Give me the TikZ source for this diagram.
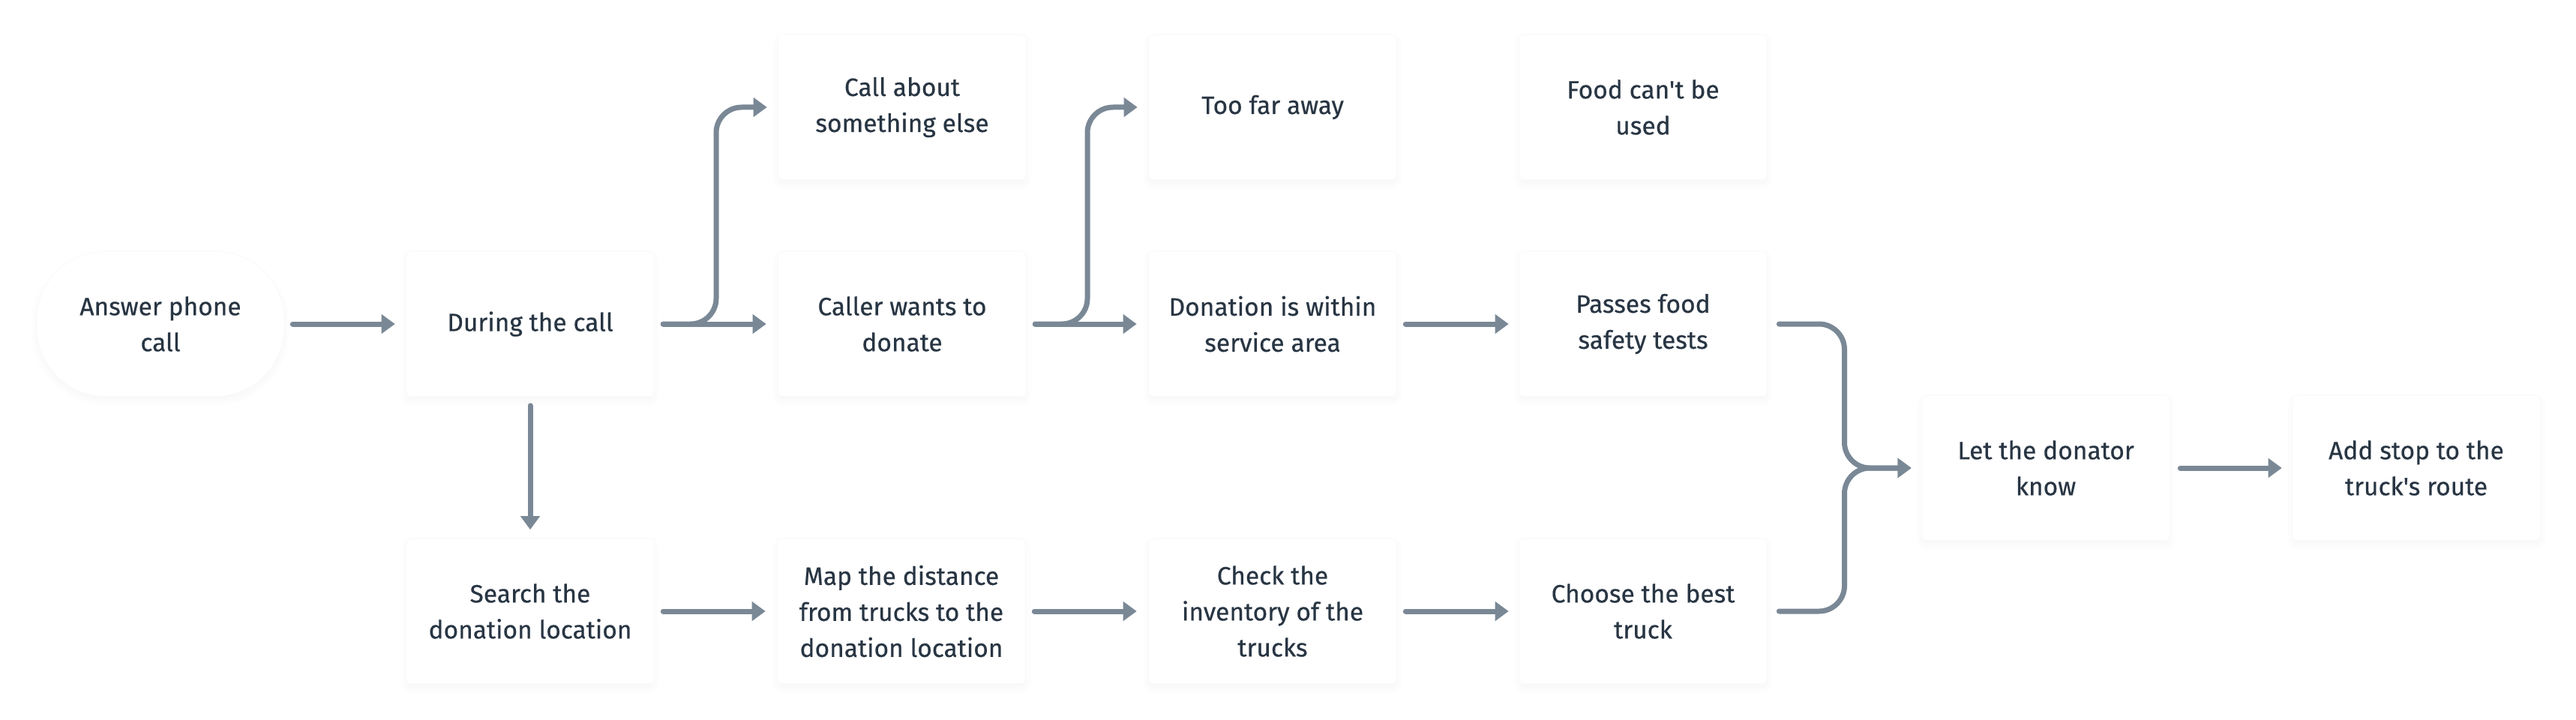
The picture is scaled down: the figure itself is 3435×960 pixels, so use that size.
\documentclass[tikz,border=0pt]{standalone}
\usepackage{fontspec}
\setmainfont{Fira Sans}[FakeBold=0.4, Ligatures=TeXOff]
\usetikzlibrary{arrows.meta,calc,shadows.blur}
\definecolor{arrowc}{HTML}{7A8896}
\definecolor{txtc}{HTML}{283543}
\tikzset{
  stepbox/.style={rectangle, minimum width=330pt, minimum height=193pt, fill=white,
    draw=black!2, line width=0.6pt, rounded corners=6pt, align=center, text=txtc,
    font=\fontsize{33.5}{48}\selectfont,
    blur shadow={shadow xshift=0pt, shadow yshift=-5pt, shadow opacity=4, shadow blur radius=10pt, shadow blur steps=6}},
  startbox/.style={stepbox, rounded corners=92pt},
  conn/.style={draw=arrowc, line width=7pt, line cap=round,
    -{Triangle[length=18pt,width=25pt]}},
}
\begin{document}
\begin{tikzpicture}[x=1pt,y=-1pt]
\useasboundingbox (0,0) rectangle (3435,960);
\node[startbox] (answer) at (214,432) {Answer phone\\call};
\node[stepbox] (during) at (707,432) {During the call};
\node[stepbox] (other) at (1203,143) {Call about\\something else};
\node[stepbox] (caller) at (1203,432) {Caller wants to\\donate};
\node[stepbox] (far) at (1697,143) {Too far away};
\node[stepbox] (within) at (1697,432) {Donation is within\\service area};
\node[stepbox] (foodno) at (2191,143) {Food can't be\\used};
\node[stepbox] (passes) at (2191,432) {Passes food\\safety tests};
\node[stepbox] (search) at (707,815) {Search the\\donation location};
\node[stepbox] (map) at (1202,815) {Map the distance\\from trucks to the\\donation location};
\node[stepbox] (check) at (1697,815) {Check the\\inventory of the\\trucks};
\node[stepbox] (choose) at (2191,815) {Choose the best\\truck};
\node[stepbox] (let) at (2728,624) {Let the donator\\know};
\node[stepbox] (add) at (3222,624) {Add stop to the\\truck's route};

\coordinate (b1) at ($(during.east)!0.5!(caller.west)$);
\coordinate (b2) at ($(caller.east)!0.5!(within.west)$);
\coordinate (mg) at ($(passes.east)!0.5!(let.west)$);

\draw[conn, shorten <=11pt, shorten >=15pt] (answer) -- (during);
\draw[conn, shorten <=12pt, shorten >=16pt] (during) -- (caller);
\draw[conn, rounded corners=34pt] ([xshift=12pt]during.east) -- (b1) |- ([xshift=-15pt]other.west);
\draw[conn, shorten <=12pt, shorten >=16pt] (caller) -- (within);
\draw[conn, rounded corners=34pt] ([xshift=12pt]caller.east) -- (b2) |- ([xshift=-15pt]far.west);
\draw[conn, shorten <=12pt, shorten >=14pt] (within) -- (passes);
\draw[conn, shorten <=12pt, shorten >=12pt] (during) -- (search);
\draw[conn, shorten <=12pt, shorten >=16pt] (search) -- (map);
\draw[conn, shorten <=12pt, shorten >=16pt] (map) -- (check);
\draw[conn, shorten <=12pt, shorten >=14pt] (check) -- (choose);
\draw[conn, rounded corners=34pt] ([xshift=16pt]passes.east) -| (mg |- let.west) -- ([xshift=-14pt]let.west);
\draw[conn, rounded corners=34pt] ([xshift=16pt]choose.east) -| (mg |- let.west) -- ([xshift=-14pt]let.west);
\draw[conn, shorten <=14pt, shorten >=14pt] (let) -- (add);
\end{tikzpicture}
\end{document}
